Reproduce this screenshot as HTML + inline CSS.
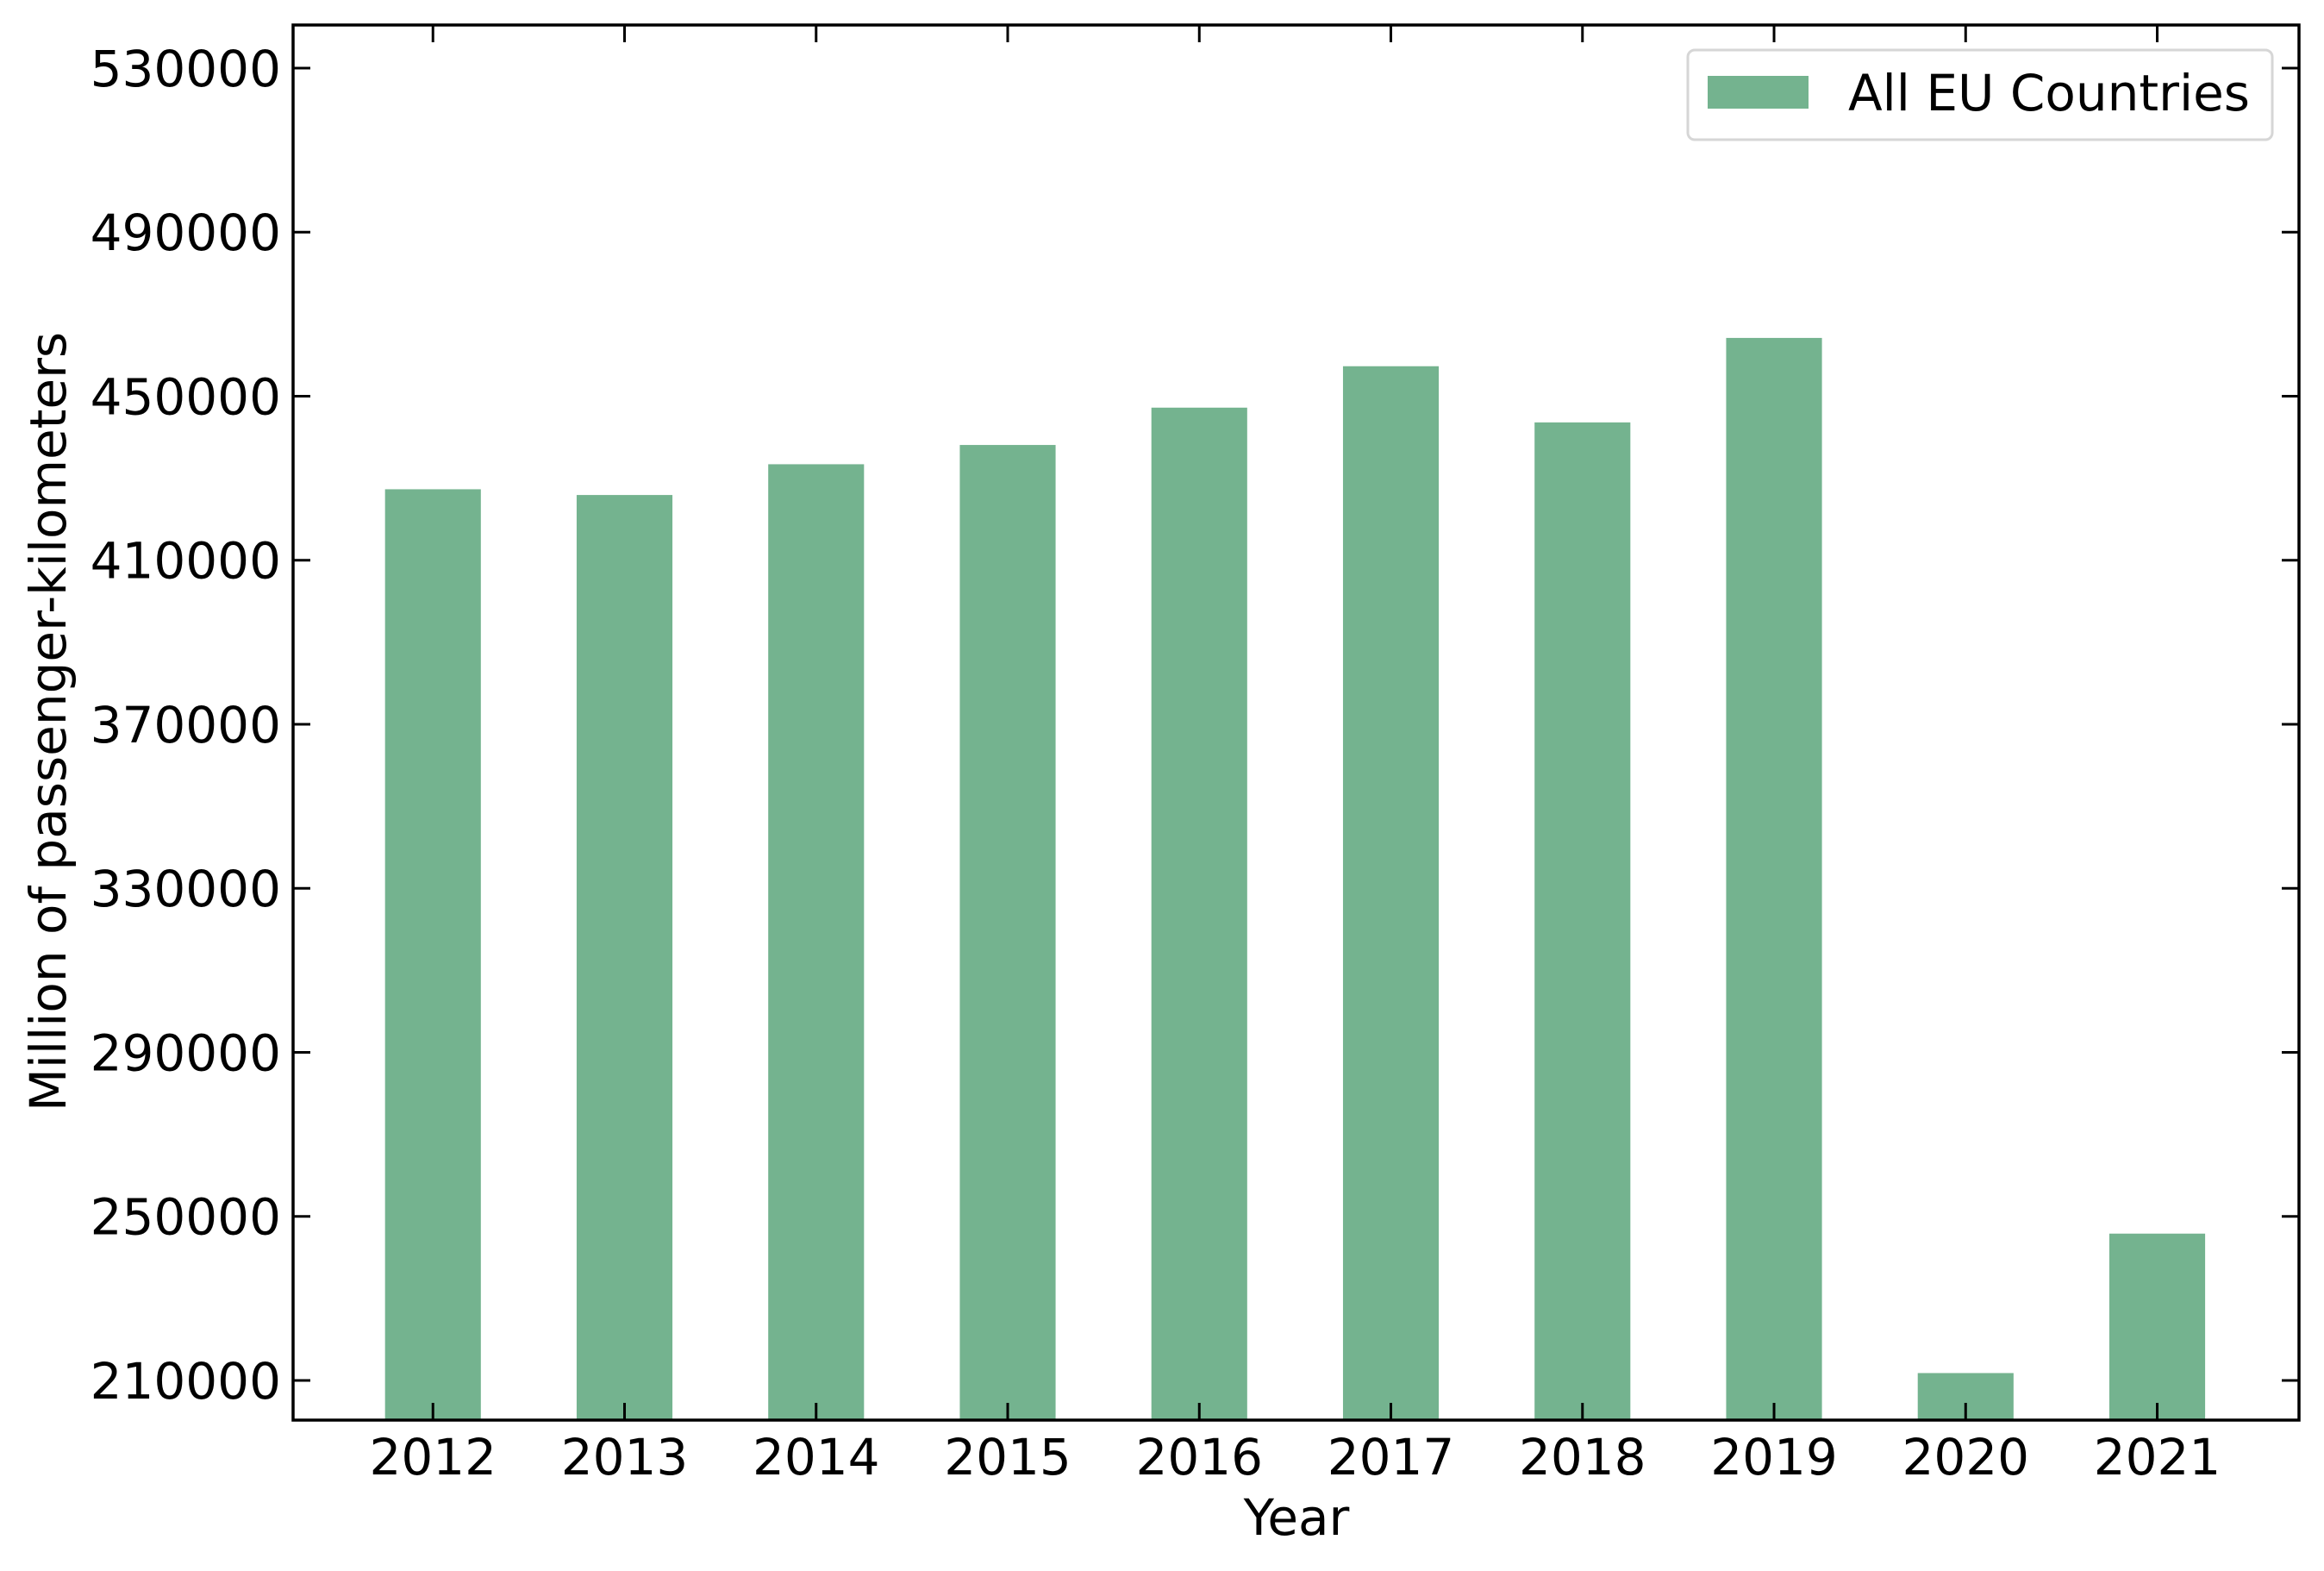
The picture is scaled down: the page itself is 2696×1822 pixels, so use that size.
<!DOCTYPE html>
<html><head><meta charset="utf-8"><style>
html,body{margin:0;padding:0;background:#fff}
svg{display:block;font-family:"DejaVu Sans","Liberation Sans",sans-serif}
</style></head><body>
<svg id="chart" width="2696" height="1822" viewBox="0 0 2696 1822" xmlns="http://www.w3.org/2000/svg">
<rect width="2696" height="1822" fill="#fff"/>
<g id="bars"></g>
<g id="axes"></g>
<g>
<rect x="1958" y="58" width="678" height="104" rx="8" fill="#fff" stroke="#d6d6d6" stroke-width="3"/>
<rect x="1981" y="88" width="117" height="38" fill="#74b38f"/>
<text x="2144" y="128" font-size="58" fill="#000">All EU Countries</text>
</g>
<text transform="translate(76,837) rotate(-90)" text-anchor="middle" font-size="58">Million of passenger-kilometers</text>
<text x="1504" y="1780" text-anchor="middle" font-size="58">Year</text>
</svg>
<script>
const categories = ["2012","2013","2014","2015","2016","2017","2018","2019","2020","2021"];
const values = [427300,425900,433400,438100,447200,457300,443600,464200,211800,245800];
const yTicks = [210000,250000,290000,330000,370000,410000,450000,490000,530000];

const L=340,R=2667,T=29,B=1647;
const xMin=-0.73,xMax=9.74,yMin=200330,yMax=540500;
const NS="http://www.w3.org/2000/svg";
function xs(i){return L+(i-xMin)/(xMax-xMin)*(R-L);}
function ys(v){return B-(v-yMin)/(yMax-yMin)*(B-T);}
function mk(tag,attrs,parent){const e=document.createElementNS(NS,tag);for(const k in attrs)e.setAttribute(k,attrs[k]);parent.appendChild(e);return e;}
const bars=document.getElementById('bars');
const axes=document.getElementById('axes');
const bw=0.5*(xs(1)-xs(0));
categories.forEach((c,i)=>{
  const y=ys(values[i]);
  const r=mk('rect',{x:xs(i)-bw/2,y:y,width:bw,height:B-y,fill:'#74b38f'},bars);
  
  
  const t1=mk('line',{x1:xs(i),x2:xs(i),y1:B,y2:B-20,stroke:'#000','stroke-width':3},axes);
  
  
  mk('line',{x1:xs(i),x2:xs(i),y1:T,y2:T+20,stroke:'#000','stroke-width':3},axes);
  const tl=mk('text',{x:xs(i),y:1710,'text-anchor':'middle','font-size':58},axes);
  tl.textContent=c;
  
  
});
yTicks.forEach(v=>{
  const y=ys(v);
  mk('line',{x1:L,x2:L+20,y1:y,y2:y,stroke:'#000','stroke-width':3},axes);
  mk('line',{x1:R,x2:R-20,y1:y,y2:y,stroke:'#000','stroke-width':3},axes);
  const tl=mk('text',{x:326,y:y+21,'text-anchor':'end','font-size':58},axes);
  tl.textContent=String(v);
  
  
});
const fr=mk('rect',{x:L,y:T,width:R-L,height:B-T,fill:'none',stroke:'#000','stroke-width':3.5},axes);


</script>
</body></html>
